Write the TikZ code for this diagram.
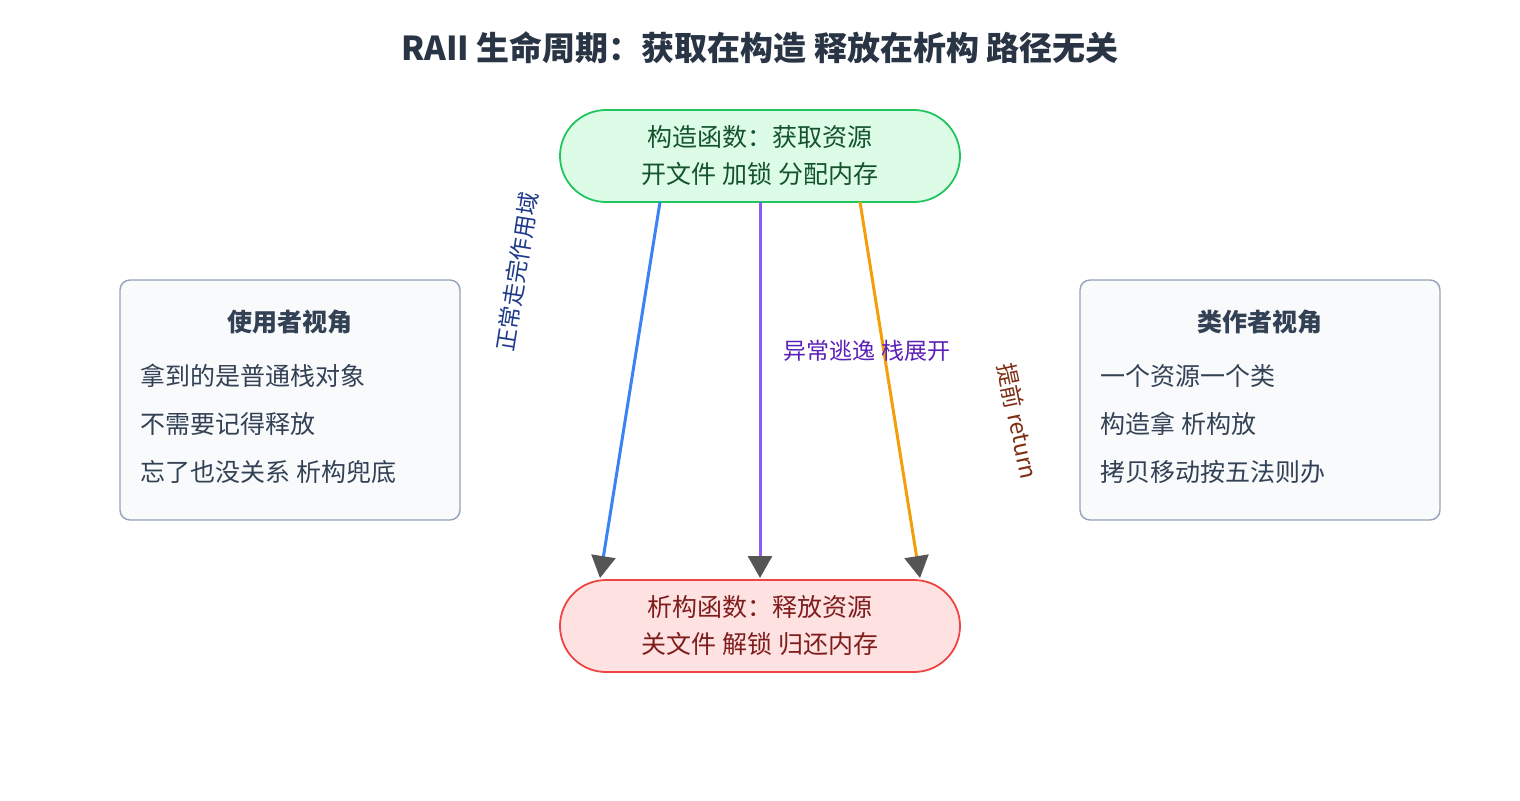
\documentclass[tikz,border=0pt]{standalone}
\usepackage{fontspec}
\setmainfont{Noto Sans CJK SC}
\usetikzlibrary{arrows.meta,positioning}
\definecolor{ink}{HTML}{334155}
\begin{document}
\begin{tikzpicture}[x=0.5pt,y=-0.5pt,
    stage/.style={rounded corners=23pt,line width=0.9pt,minimum width=200pt,minimum height=46pt,align=center,font=\fontsize{12.5}{18.5}\selectfont},
    view/.style={rounded corners=5pt,draw={rgb,255:red,148;green,163;blue,184},fill={rgb,255:red,248;green,250;blue,252},line width=0.7pt,minimum height=120pt},
    line/.style={anchor=west,inner xsep=0pt,text=ink,font=\fontsize{12.5}{14}\selectfont},
    flow/.style={line width=1.5pt,-{Triangle[width=12pt,length=11pt,color={rgb,255:red,85;green,85;blue,85}]}}]
        \useasboundingbox (0,0) rectangle (1520,800);

        % title
        \node (title) at (760,48) {\fontsize{16.5}{18}\selectfont\bfseries\color{ink!80!black}RAII 生命周期：获取在构造 释放在析构 路径无关};

        % constructor / destructor
        \node [stage,draw={rgb,255:red,34;green,197;blue,94},fill={rgb,255:red,220;green,252;blue,231},text={rgb,255:red,20;green,83;blue,45}] (ctor) at (760,156) {构造函数：获取资源\\开文件 加锁 分配内存};
        \node [stage,draw={rgb,255:red,239;green,68;blue,68},fill={rgb,255:red,254;green,226;blue,226},text={rgb,255:red,127;green,29;blue,29}] (dtor) at (760,626) {析构函数：释放资源\\关文件 解锁 归还内存};

        % side boxes
        \node [view,minimum width=170pt] (user) at (290,400) {};
        \node [font=\fontsize{12.5}{14}\selectfont\bfseries,text=ink] (usertitle) at (290,322) {使用者视角};
        \node [line] (u1) at (140,376) {拿到的是普通栈对象};
        \node [line] (u2) at (140,424) {不需要记得释放};
        \node [line] (u3) at (140,472) {忘了也没关系 析构兜底};

        \node [view,minimum width=180pt] (author) at (1260,400) {};
        \node [font=\fontsize{12.5}{14}\selectfont\bfseries,text=ink] (authortitle) at (1260,322) {类作者视角};
        \node [line] (a1) at (1100,376) {一个资源一个类};
        \node [line] (a2) at (1100,424) {构造拿 析构放};
        \node [line] (a3) at (1100,472) {拷贝移动按五法则办};

        % paths
        \coordinate (c1) at (660,202);
        \coordinate (c2) at (760,202);
        \coordinate (c3) at (860,202);
        \coordinate (d1) at (600,578);
        \coordinate (d2) at (760,578);
        \coordinate (d3) at (920,578);
        \draw [flow,draw={rgb,255:red,59;green,130;blue,246}] (c1) -- (d1);
        \draw [flow,draw={rgb,255:red,139;green,92;blue,246}] (c2) -- (d2);
        \draw [flow,draw={rgb,255:red,245;green,158;blue,11}] (c3) -- (d3);

        \node [rotate=81,text={rgb,255:red,30;green,58;blue,138},font=\fontsize{11.5}{13}\selectfont] (normal) at (517,272) {正常走完作用域};
        \node [text={rgb,255:red,91;green,33;blue,182},font=\fontsize{11.5}{13}\selectfont] (unwind) at (867,351) {异常逃逸 栈展开};
        \node [rotate=-78,text={rgb,255:red,124;green,45;blue,18},font=\fontsize{11.5}{13}\selectfont] (early) at (1018,421) {提前 return};
\end{tikzpicture}
\end{document}
